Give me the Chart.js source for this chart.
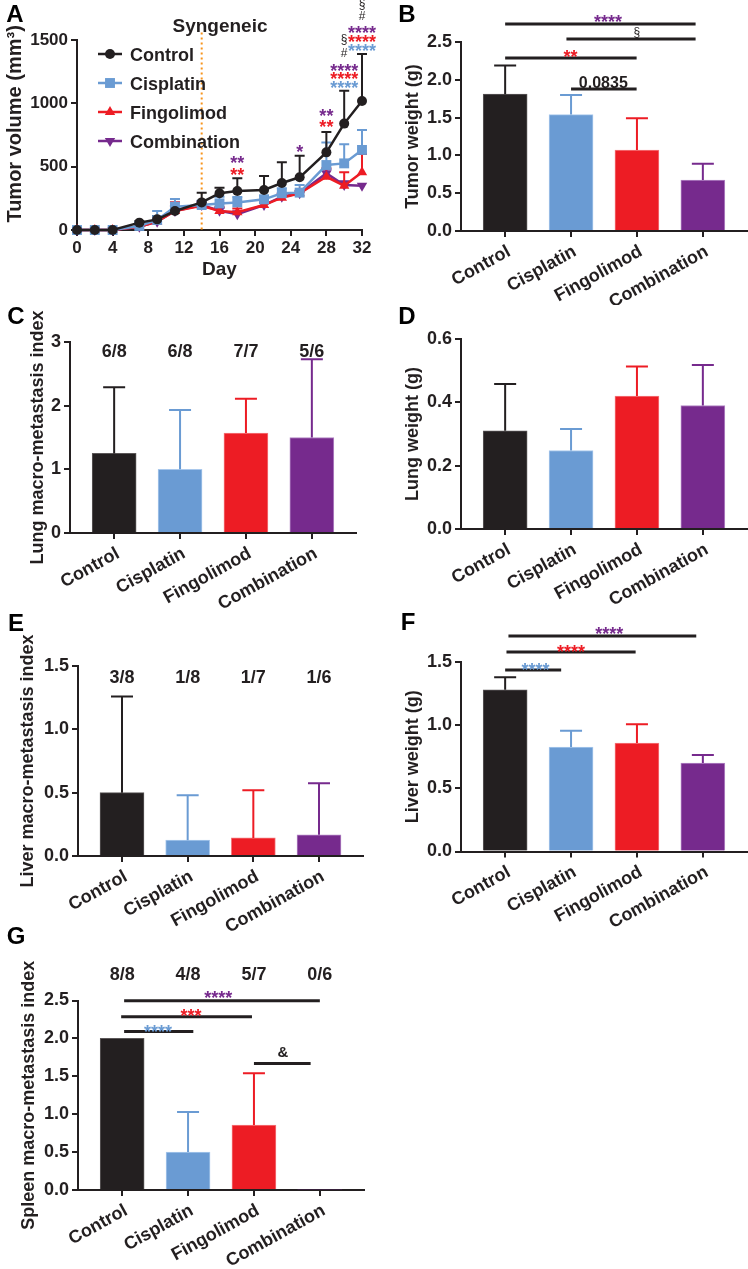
<!DOCTYPE html>
<html><head><meta charset="utf-8">
<script src="https://cdn.jsdelivr.net/npm/chart.js@4.4.1/dist/chart.umd.min.js"></script>
<style>
html,body{margin:0;padding:0;background:#fff;}
#wrap{position:relative;width:748px;height:1269px;overflow:hidden;background:#fff;}
canvas{position:absolute;}
</style>
</head><body><div id="wrap"></div>
<script>
// ---------------- DATA ----------------
const groups = ['Control', 'Cisplatin', 'Fingolimod', 'Combination'];

// Panel A: tumor volume (mm3) over days
const days = [0, 2, 4, 7, 9, 11, 14, 16, 18, 21, 23, 25, 28, 30, 32];
const volControl     = [0, 0, 0, 58, 84, 150, 218, 290, 308, 316, 371, 416, 613, 840, 1018];
const volControlSD   = [0, 0, 0, 12, 26, 40, 77, 44, 100, 110, 163, 171, 161, 260, 372];
const volCisplatin   = [0, 0, 0, 32, 79, 184, 197, 210, 218, 242, 290, 295, 513, 526, 632];
const volCisplatinSD = [0, 0, 0, 13, 71, 61, 33, 53, 42, 28, 40, 60, 177, 150, 158];
const volFingolimod  = [0, 0, 0, 26, 66, 150, 192, 150, 140, 197, 255, 290, 420, 350, 455];
const volFingolimodSD= [0, 0, 0, 9, 24, 70, 33, 30, 30, 18, 30, 10, 67, 105, 145];
const volCombination = [0, 0, 0, 26, 66, 150, 197, 152, 124, 197, 263, 290, 447, 355, 350];
const volCombinationSD=[0, 0, 0, 8, 20, 40, 30, 25, 25, 20, 30, 20, 30, 30, 0];
const volTicksX = [0, 4, 8, 12, 16, 20, 24, 28, 32];
const volTicksY = [0, 500, 1000, 1500];
const treatmentStartDay = 14;
// significance marks in A: [day, value, text, colourKey]
const volMarks = [
  [18, 568, '**', 'p'], [18, 474, '**', 'r'],
  [25, 655, '*', 'p'],
  [28, 940, '**', 'p'], [28, 853, '**', 'r'],
  [30, 1500, '§', 'k'], [30, 1397, '#', 'k'], [30, 1295, '****', 'p'], [30, 1232, '****', 'r'], [30, 1160, '****', 'b'],
  [32, 1776, '§', 'k'], [32, 1690, '#', 'k'], [32, 1595, '****', 'p'], [32, 1524, '****', 'r'], [32, 1453, '****', 'b']
];

// Panel B: tumor weight (g)
const tumorWeight   = [1.81, 1.54, 1.07, 0.675];
const tumorWeightSD = [0.38, 0.26, 0.42, 0.215];
const tumorWeightBrackets = [[0, 2.89, 2.738], [0.93, 2.89, 2.54], [0, 1.995, 2.288], [1.0, 1.995, 1.878]];
const tumorWeightMarks = [[1.56, 2.83, '****', 'p'], [2.0, 2.62, '§', 'k'], [0.99, 2.368, '**', 'r'], [1.49, 1.97, '0.0835', 'k']];

// Panel C: lung macro-metastasis index
const lungIndex   = [1.25, 1.0, 1.57, 1.5];
const lungIndexSD = [1.04, 0.93, 0.54, 1.23];
const lungIncidence = ['6/8', '6/8', '7/7', '5/6'];

// Panel D: lung weight (g)
const lungWeight   = [0.31, 0.248, 0.42, 0.39];
const lungWeightSD = [0.148, 0.068, 0.093, 0.128];

// Panel E: liver macro-metastasis index
const liverIndex   = [0.5, 0.125, 0.143, 0.167];
const liverIndexSD = [0.76, 0.355, 0.377, 0.408];
const liverIncidence = ['3/8', '1/8', '1/7', '1/6'];

// Panel F: liver weight (g)
const liverWeight   = [1.28, 0.827, 0.858, 0.70];
const liverWeightSD = [0.10, 0.128, 0.149, 0.063];
const liverWeightBrackets = [[0.05, 2.9, 1.706], [0.02, 1.98, 1.58], [0, 0.85, 1.437]];
const liverWeightMarks = [[1.58, 1.756, '****', 'p'], [1.0, 1.62, '****', 'r'], [0.46, 1.477, '****', 'b']];

// Panel G: spleen macro-metastasis index
const spleenIndex   = [2.0, 0.5, 0.857, 0];
const spleenIndexSD = [0, 0.53, 0.683, 0];
const spleenIncidence = ['8/8', '4/8', '5/7', '0/6'];
const spleenBrackets = [[0.03, 3.0, 2.497], [-0.015, 1.97, 2.286], [0.03, 1.08, 2.09], [2.0, 2.86, 1.668]];
const spleenMarks = [[1.46, 2.6, '****', 'p'], [1.045, 2.36, '***', 'r'], [0.545, 2.15, '****', 'b'], [2.44, 1.82, '&', 'k']];

// ---------------- STYLE ----------------
const INK = '#231F20', BLUE = '#6A9BD3', RED = '#ED1C24', PURPLE = '#762A8D', ORANGE = '#F7941D';
const COL = {k: INK, b: BLUE, r: RED, p: PURPLE};
const BAR_FILL = [INK, BLUE, RED, PURPLE];
const BAR_EDGE = ['#5B5758', '#A9C8EC', '#F4787C', '#B285C4'];
const FONT = '"Liberation Sans", Arial, Helvetica, sans-serif';
Chart.defaults.font.family = FONT;
Chart.defaults.font.weight = 'bold';
Chart.defaults.color = INK;

const wrap = document.getElementById('wrap');
function makeCanvas(b) {
  const c = document.createElement('canvas');
  c.width = b.w; c.height = b.h;
  c.style.left = b.x + 'px'; c.style.top = b.y + 'px';
  c.style.width = b.w + 'px'; c.style.height = b.h + 'px';
  wrap.appendChild(c);
  return c;
}
function text(ctx, s, x, yc, size, color, weight) {
  ctx.save();
  ctx.font = (weight || 'bold') + ' ' + size + 'px ' + FONT;
  ctx.fillStyle = color;
  ctx.textAlign = 'center';
  ctx.textBaseline = 'alphabetic';
  let k = 0.36;
  if (/^\*+$/.test(s)) k = 0.6;
  else if (s === '§') k = 0.27;
  ctx.fillText(s, x, yc + k * size);
  ctx.restore();
}
function markSize(s) { return /^\*+$/.test(s) ? 18 : (s === '§' || s === '#') ? 12 : (s === '&' ? 15 : 16); }
function markWeight(s) { return (s === '§' || s === '#') ? 'normal' : 'bold'; }

function yAxis(min, max, step, dec, title, tpad, width, fs, tfs) {
  return {
    type: 'linear', min: min, max: max,
    ticks: {stepSize: step, font: {size: fs, weight: 'bold'}, color: INK, padding: 3,
            callback: v => Number(v).toFixed(dec)},
    grid: {drawOnChartArea: false, drawTicks: true, tickLength: 6, color: INK, lineWidth: 2},
    border: {display: true, color: INK, width: 2},
    title: {display: true, text: title, color: INK, font: {size: tfs || 18, weight: 'bold'}, padding: {top: tpad, bottom: 0}},
    afterFit(s) { s.width = width; }
  };
}
function xCat(height) {
  return {
    type: 'linear', min: -0.67, max: 3.67, offset: false,
    afterBuildTicks(s) { s.ticks = groups.map((_, i) => ({value: i})); },
    ticks: {autoSkip: false, minRotation: 29, maxRotation: 29, padding: 4, labelOffset: 4,
            font: {size: 18, weight: 'bold'}, color: INK,
            callback: v => groups[v] !== undefined ? groups[v] : ''},
    grid: {drawOnChartArea: false, drawTicks: true, tickLength: 6, color: INK, lineWidth: 2, offset: false},
    border: {display: true, color: INK, width: 2},
    afterFit(s) { s.height = height; }
  };
}

function barPanel(o) {
  const cv = makeCanvas(o.box);
  const deco = {
    id: 'deco' + o.letter,
    afterDatasetsDraw(chart) {
      const ctx = chart.ctx, xs = chart.scales.x, ys = chart.scales.y;
      ctx.save();
      ctx.lineWidth = 2;
      o.values.forEach((v, i) => {
        const e = o.sd[i];
        if (!e) return;
        const x = xs.getPixelForValue(i);
        const y0 = ys.getPixelForValue(v), y1 = ys.getPixelForValue(v + e);
        ctx.strokeStyle = BAR_FILL[i];
        ctx.beginPath();
        ctx.moveTo(x, y0); ctx.lineTo(x, y1);
        ctx.moveTo(x - 11, y1); ctx.lineTo(x + 11, y1);
        ctx.stroke();
      });
      ctx.restore();
    },
    afterDraw(chart) {
      const ctx = chart.ctx, xs = chart.scales.x, ys = chart.scales.y;
      ctx.save();
      ctx.strokeStyle = INK; ctx.lineWidth = 3;
      (o.brackets || []).forEach(b => {
        const y = ys.getPixelForValue(b[2]);
        ctx.beginPath();
        ctx.moveTo(xs.getPixelForValue(b[0]), y);
        ctx.lineTo(xs.getPixelForValue(b[1]), y);
        ctx.stroke();
      });
      ctx.restore();
      (o.marks || []).forEach(m => {
        text(ctx, m[2], xs.getPixelForValue(m[0]), ys.getPixelForValue(m[1]), markSize(m[2]), COL[m[3]], markWeight(m[2]));
      });
      if (o.fractions) {
        o.fractions.forEach((f, i) => text(ctx, f, xs.getPixelForValue(i), ys.getPixelForValue(o.fracY), 18, INK));
      }
      text(ctx, o.letter, o.letterPos[0] - o.box.x, o.letterPos[1] - o.box.y, 24, '#000');
    }
  };
  new Chart(cv, {
    type: 'bar',
    data: {datasets: [{
      data: o.values.map((v, i) => ({x: i, y: v})),
      backgroundColor: BAR_FILL, borderColor: BAR_EDGE,
      borderWidth: o.values.map(v => v > 0 ? 1 : 0),
      barThickness: 44
    }]},
    options: {
      responsive: false, animation: false, devicePixelRatio: 1,
      layout: {padding: {top: o.padTop, right: o.padRight, left: 0, bottom: 0}},
      plugins: {legend: {display: false}, tooltip: {enabled: false}},
      scales: {x: xCat(o.xH), y: yAxis(o.y[0], o.y[1], o.y[2], o.y[3], o.title, o.tpad, o.yW, 18)}
    },
    plugins: [deco]
  });
}

// ---------------- PANEL A ----------------
(function () {
  const box = {x: 0, y: 0, w: 390, h: 290};
  const cv = makeCanvas(box);
  const series = [
    {name: 'Control', v: volControl, sd: volControlSD, c: INK, ps: 'circle', r: 5, rot: 0},
    {name: 'Cisplatin', v: volCisplatin, sd: volCisplatinSD, c: BLUE, ps: 'rect', r: 7, rot: 0},
    {name: 'Fingolimod', v: volFingolimod, sd: volFingolimodSD, c: RED, ps: 'triangle', r: 6, rot: 0},
    {name: 'Combination', v: volCombination, sd: volCombinationSD, c: PURPLE, ps: 'triangle', r: 6, rot: 180}
  ];
  const deco = {
    id: 'decoA',
    beforeDatasetsDraw(chart) {
      const ctx = chart.ctx, xs = chart.scales.x, ys = chart.scales.y;
      ctx.save();
      ctx.strokeStyle = ORANGE; ctx.lineWidth = 2; ctx.setLineDash([2, 3]);
      const xd = xs.getPixelForValue(treatmentStartDay);
      ctx.beginPath(); ctx.moveTo(xd, ys.getPixelForValue(1560)); ctx.lineTo(xd, ys.getPixelForValue(0)); ctx.stroke();
      ctx.restore();
      ctx.save(); ctx.lineWidth = 2;
      series.slice().reverse().forEach(s => {
        ctx.strokeStyle = s.c;
        s.v.forEach((v, i) => {
          const e = s.sd[i]; if (!e) return;
          const x = xs.getPixelForValue(days[i]);
          const y0 = ys.getPixelForValue(v), y1 = ys.getPixelForValue(v + e);
          ctx.beginPath();
          ctx.moveTo(x, y0); ctx.lineTo(x, y1);
          ctx.moveTo(x - 5, y1); ctx.lineTo(x + 5, y1);
          ctx.stroke();
        });
      });
      ctx.restore();
    },
    afterDraw(chart) {
      const ctx = chart.ctx, xs = chart.scales.x, ys = chart.scales.y;
      volMarks.forEach(m => text(ctx, m[2], xs.getPixelForValue(m[0]), ys.getPixelForValue(m[1]), markSize(m[2]), COL[m[3]], markWeight(m[2])));
      text(ctx, 'Syngeneic', 220, 25, 19, INK);
      text(ctx, 'A', 15, 13, 24, '#000');
      const ly = [54, 83, 112, 141];
      series.forEach((s, i) => {
        ctx.save();
        ctx.strokeStyle = s.c; ctx.fillStyle = s.c; ctx.lineWidth = 2.5;
        ctx.beginPath(); ctx.moveTo(98, ly[i]); ctx.lineTo(122, ly[i]); ctx.stroke();
        Chart.helpers.drawPoint(ctx, {pointStyle: s.ps, radius: s.r, rotation: s.rot, borderWidth: 0}, 110, ly[i]);
        ctx.font = 'bold 18px ' + FONT; ctx.fillStyle = INK; ctx.textAlign = 'left'; ctx.textBaseline = 'alphabetic';
        ctx.fillText(s.name, 130, ly[i] + 6.5);
        ctx.restore();
      });
    }
  };
  new Chart(cv, {
    type: 'line',
    data: {datasets: series.map(s => ({
      label: s.name,
      data: s.v.map((v, i) => ({x: days[i], y: v})),
      borderColor: s.c, backgroundColor: s.c, borderWidth: 2.5,
      pointStyle: s.ps, pointRadius: s.r, pointRotation: s.rot, pointBorderWidth: 0,
      pointBackgroundColor: s.c, tension: 0, clip: false
    }))},
    options: {
      responsive: false, animation: false, devicePixelRatio: 1,
      layout: {padding: {top: 40, right: 28, left: 0, bottom: 0}},
      plugins: {legend: {display: false}, tooltip: {enabled: false}},
      scales: {
        x: {type: 'linear', min: 0, max: 32,
            afterBuildTicks(s) { s.ticks = volTicksX.map(v => ({value: v})); },
            ticks: {font: {size: 17, weight: 'bold'}, color: INK, padding: 2, maxRotation: 0},
            grid: {drawOnChartArea: false, tickLength: 6, color: INK, lineWidth: 2},
            border: {display: true, color: INK, width: 2},
            title: {display: true, text: 'Day', color: INK, font: {size: 19, weight: 'bold'}, padding: {top: 0, bottom: 9}},
            afterFit(s) { s.height = 60; }},
        y: Object.assign(yAxis(0, 1500, 500, 0, '    Tumor volume (mm³)', 3, 77, 17, 20),
            {afterBuildTicks(s) { s.ticks = volTicksY.map(v => ({value: v})); }})
      }
    },
    plugins: [deco]
  });
})();

// ---------------- BAR PANELS ----------------
barPanel({letter: 'B', letterPos: [407, 13], box: {x: 374, y: 0, w: 374, h: 305},
  values: tumorWeight, sd: tumorWeightSD, brackets: tumorWeightBrackets, marks: tumorWeightMarks,
  y: [0, 2.5, 0.5, 1], title: 'Tumor weight (g)', tpad: 28, yW: 87, padTop: 42, padRight: 1, xH: 74});

barPanel({letter: 'C', letterPos: [16, 315], box: {x: 0, y: 290, w: 374, h: 325},
  values: lungIndex, sd: lungIndexSD, fractions: lungIncidence, fracY: 2.86,
  y: [0, 3, 1, 0], title: 'Lung macro-metastasis index', tpad: 27, yW: 70, padTop: 52, padRight: 18, xH: 82});

barPanel({letter: 'D', letterPos: [407, 315], box: {x: 374, y: 290, w: 374, h: 325},
  values: lungWeight, sd: lungWeightSD,
  y: [0, 0.6, 0.2, 1], title: 'Lung weight (g)', tpad: 28, yW: 87, padTop: 49, padRight: 1, xH: 86});

barPanel({letter: 'E', letterPos: [16, 622], box: {x: 0, y: 600, w: 374, h: 345},
  values: liverIndex, sd: liverIndexSD, fractions: liverIncidence, fracY: 1.414,
  y: [0, 1.5, 0.5, 1], title: 'Liver macro-metastasis index', tpad: 17, yW: 78, padTop: 66, padRight: 11, xH: 89});

barPanel({letter: 'F', letterPos: [408, 621], box: {x: 374, y: 600, w: 374, h: 345},
  values: liverWeight, sd: liverWeightSD, brackets: liverWeightBrackets, marks: liverWeightMarks,
  y: [0, 1.5, 0.5, 1], title: 'Liver weight (g)', tpad: 28, yW: 87, padTop: 62, padRight: 1, xH: 93.5});

barPanel({letter: 'G', letterPos: [16, 935], box: {x: 0, y: 900, w: 374, h: 369},
  values: spleenIndex, sd: spleenIndexSD, fractions: spleenIncidence, fracY: 2.85,
  brackets: spleenBrackets, marks: spleenMarks,
  y: [0, 2.5, 0.5, 1], title: 'Spleen macro-metastasis index', tpad: 18, yW: 78, padTop: 100.5, padRight: 10, xH: 79});
</script>
</body></html>
